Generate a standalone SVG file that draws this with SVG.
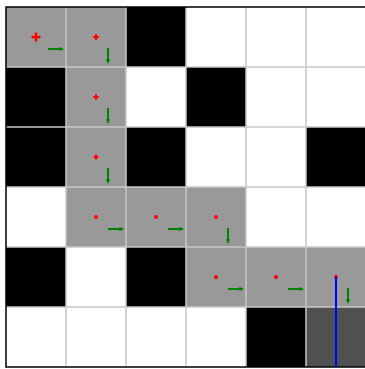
<svg xmlns="http://www.w3.org/2000/svg" width="365" height="369" viewBox="0 0 365 369">
<style>
.w{fill:#ffffff}.b{fill:#000000}.g{fill:#999999}.d{fill:#505050}
.grid{stroke:#c8c8c8;stroke-width:1.5;fill:none}
.arr{stroke:#008000;stroke-width:2;fill:none;marker-end:url(#ah)}
.dot{stroke:#ff0000;fill:none}
</style>
<defs>
<marker id="ah" viewBox="0 0 6 6" refX="5" refY="3" markerWidth="2.2" markerHeight="2.2" orient="auto" markerUnits="strokeWidth">
<path d="M0,0 L6,3 L0,6 z" fill="#008000"/>
</marker>
</defs>
<rect x="0" y="0" width="365" height="369" fill="#ffffff"/>
<g id="cells">
<rect class="g" x="6" y="7" width="60" height="60"/>
<rect class="g" x="66" y="7" width="60" height="60"/>
<rect class="b" x="126" y="7" width="60" height="60"/>
<rect class="b" x="6" y="67" width="60" height="60"/>
<rect class="g" x="66" y="67" width="60" height="60"/>
<rect class="b" x="186" y="67" width="60" height="60"/>
<rect class="b" x="6" y="127" width="60" height="60"/>
<rect class="g" x="66" y="127" width="60" height="60"/>
<rect class="b" x="126" y="127" width="60" height="60"/>
<rect class="b" x="306" y="127" width="60" height="60"/>
<rect class="g" x="66" y="187" width="60" height="60"/>
<rect class="g" x="126" y="187" width="60" height="60"/>
<rect class="g" x="186" y="187" width="60" height="60"/>
<rect class="b" x="6" y="247" width="60" height="60"/>
<rect class="b" x="126" y="247" width="60" height="60"/>
<rect class="g" x="186" y="247" width="60" height="60"/>
<rect class="g" x="246" y="247" width="60" height="60"/>
<rect class="g" x="306" y="247" width="60" height="60"/>
<rect class="b" x="246" y="307" width="60" height="60"/>
<rect class="d" x="306" y="307" width="60" height="60"/>
</g>
<g id="grid" class="grid">
<path d="M66,7V367M126,7V367M186,7V367M246,7V367M306,7V367"/>
<path d="M6,67H366M6,127H366M6,187H366M6,247H366M6,307H366"/>
</g>
<rect x="6" y="7" width="360" height="360" fill="none" stroke="#000000" stroke-width="1.5"/>
<g id="markers">
<path class="dot" stroke-width="2.5" d="M31.5,37H40.5M36,32.5V41.5"/>
<path class="dot" stroke-width="2" d="M93,37H99M96,34V40"/>
<path class="dot" stroke-width="2" d="M93.3,97H98.7M96,94.3V99.7"/>
<path class="dot" stroke-width="2" d="M93.6,157H98.4M96,154.6V159.4"/>
<circle cx="96" cy="217" r="2" fill="#ff0000"/>
<circle cx="156" cy="217" r="2" fill="#ff0000"/>
<circle cx="216" cy="217" r="2" fill="#ff0000"/>
<circle cx="216" cy="277" r="2" fill="#ff0000"/>
<circle cx="276" cy="277" r="2" fill="#ff0000"/>
<circle cx="336" cy="277" r="2" fill="#ff0000"/>
</g>
<g id="connectors">
<line class="arr" x1="48" y1="49" x2="63" y2="49"/>
<line class="arr" x1="108" y1="48" x2="108" y2="63"/>
<line class="arr" x1="108" y1="108" x2="108" y2="123"/>
<line class="arr" x1="108" y1="168" x2="108" y2="183"/>
<line class="arr" x1="108" y1="229" x2="123" y2="229"/>
<line class="arr" x1="168" y1="229" x2="183" y2="229"/>
<line class="arr" x1="228" y1="228" x2="228" y2="243"/>
<line class="arr" x1="228" y1="289" x2="243" y2="289"/>
<line class="arr" x1="288" y1="289" x2="303" y2="289"/>
<line class="arr" x1="348" y1="288" x2="348" y2="303"/>
<line x1="336" y1="277" x2="336" y2="367" stroke="#0000ff" stroke-width="2"/>
</g>
</svg>
